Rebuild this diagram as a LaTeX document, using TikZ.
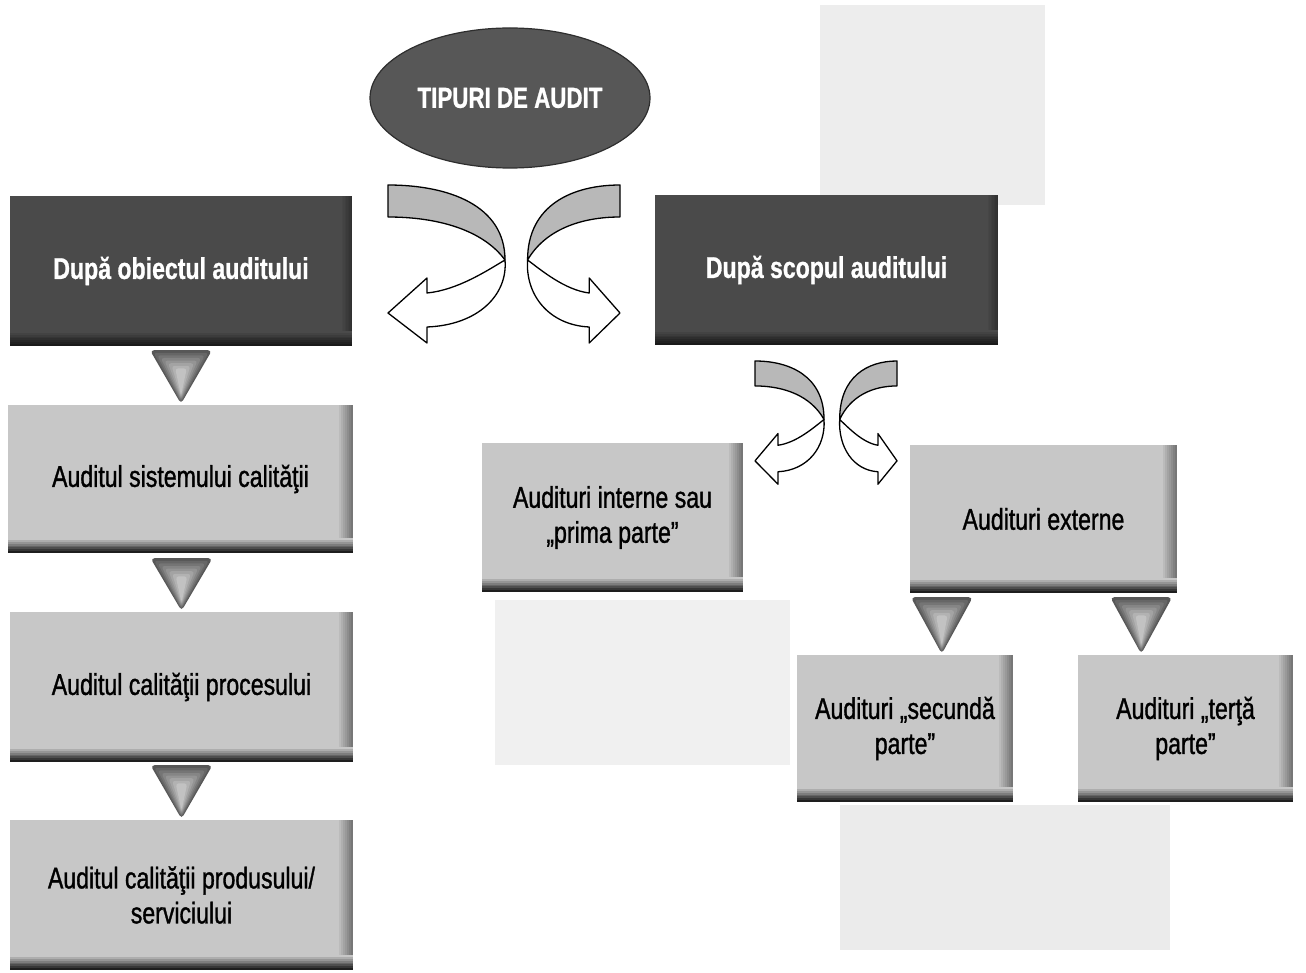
\documentclass[tikz,border=0pt]{standalone}
\usepackage{fontspec}
\setmainfont{Liberation Sans}[FakeStretch=0.77,
  UprightFeatures={FakeBold=1.1}, BoldFeatures={FakeBold=0.9}]
\usetikzlibrary{shapes.geometric,calc}

\definecolor{boxlight}{gray}{0.78}
\definecolor{boxdark}{gray}{0.29}
\definecolor{ribbongray}{gray}{0.72}

% stepped edge darkening on the right and bottom sides of a box
\newcommand\edgeshade[4]{% base colour, right width, darkest right, darkest bottom
  \foreach \ii in {0,...,7}{%
    \pgfmathtruncatemacro\rpct{100-(100-#3)*\ii/7}%
    \fill[#1!\rpct!black] ([xshift={(-#2+\ii*#2/8)*1pt}]path picture bounding box.north east)
      rectangle (path picture bounding box.south east);}%
  \foreach \ii in {0,...,7}{%
    \pgfmathtruncatemacro\bpct{100-(100-#4)*\ii/7}%
    \fill[#1!\bpct!black] ([yshift={(15-\ii*15/8)*1pt}]path picture bounding box.south west)
      rectangle (path picture bounding box.south east);}%
}

\tikzset{
  x=1pt, y=-1pt,
  lightbox/.style={rectangle, inner sep=0pt, fill=boxlight, text=black,
    align=center, font=\fontsize{30}{35}\selectfont,
    path picture={\edgeshade{boxlight}{16}{60}{15}}},
  darkbox/.style={rectangle, inner sep=0pt, fill=boxdark, text=white,
    align=center, font=\fontsize{30}{35}\selectfont\bfseries,
    path picture={\edgeshade{boxdark}{12}{65}{35}}},
  headoval/.style={ellipse, inner sep=0pt, draw=black!82, line width=1.2pt,
    fill=black!66, text=white, font=\fontsize{29}{34}\selectfont\bfseries},
  ribbonback/.style={fill=ribbongray, draw=black, line width=1.3pt, line join=round},
  ribbonfront/.style={fill=white, draw=black, line width=1.3pt, line join=round},
}

% twisted ribbon arrow: grey back face, then white front face ending in a head
\newcommand\ribbonarrow{%
  \filldraw[ribbonback] (0,0) .. controls (60,0) and (117,20) .. (117,75)
     .. controls (95,45) and (50,32) .. (0,32) -- cycle;
  \filldraw[ribbonfront] (117,75) .. controls (100,85) and (70,105) .. (39,108)
     -- (39,93) -- (0,128) -- (39,158) -- (39,142)
     .. controls (90,140) and (120,110) .. (117,75) -- cycle;}

% shaded downward pointer from a top point to the node below it
\newcommand\downtri[2]{%
  \coordinate (tiptri) at ($(#1 |- #2.north)+(0,-1)$);
  \fill[black!66, rounded corners=4pt] ($(#1)+(-31,0)$) -- ($(#1)+(31,0)$) -- (tiptri) -- cycle;
  \foreach \kk in {1,...,7}{%
    \pgfmathtruncatemacro\tpct{66-6*\kk}%
    \fill[black!\tpct, rounded corners=3pt] ($(#1)+(-31+3.6*\kk,2.6*\kk)$)
      -- ($(#1)+(31-3.6*\kk,2.6*\kk)$) -- ($(tiptri)+(0,-1.2*\kk)$) -- cycle;}}

\begin{document}
\begin{tikzpicture}
\fill[white] (0,0) rectangle (1306,973);
\useasboundingbox (0,0) rectangle (1306,973);

% faint page tone behind the chart
\fill[black!7] (820,5) rectangle (1045,205);
\fill[black!6] (495,600) rectangle (790,765);
\fill[black!8] (840,805) rectangle (1170,950);

% title
\node[headoval, minimum width=280pt, minimum height=140pt] (top) at (510,98) {TIPURI DE AUDIT};

% first-level boxes
\node[darkbox, minimum width=342pt, minimum height=150pt] (obj) at (181,271) {După obiectul auditului};
\node[darkbox, minimum width=343pt, minimum height=150pt] (scop) at (826.5,270) {După scopul auditului};

% audit object column
\node[lightbox, minimum width=345pt, minimum height=148pt] (sist) at (180.5,479) {Auditul sistemului calităţii};
\node[lightbox, minimum width=343pt, minimum height=150pt] (proc) at (181.5,687) {Auditul calităţii procesului};
\node[lightbox, minimum width=343pt, minimum height=150pt] (prod) at (181.5,895) {Auditul calităţii produsului/\\serviciului};

% audit purpose branch
\node[lightbox, minimum width=261pt, minimum height=149pt] (intern) at (612.5,517.5) {Audituri interne sau\\„prima parte”};
\node[lightbox, minimum width=267pt, minimum height=148pt] (extern) at (1043.5,519) {Audituri externe};
\node[lightbox, minimum width=216pt, minimum height=147pt] (sec) at (905,728.5) {Audituri „secundă\\parte”};
\node[lightbox, minimum width=215pt, minimum height=147pt] (ter) at (1185.5,728.5) {Audituri „terţă\\parte”};

% downward pointers
\coordinate (p1) at ($(obj.south)+(0,4)$);
\coordinate (p2) at ($(sist.south)+(1,5)$);
\coordinate (p3) at ($(proc.south)+(0,3)$);
\coordinate (p4) at ($(extern.south west)+(32,4)$);
\coordinate (p5) at ($(extern.south east)+(-36,4)$);
\downtri{p1}{sist}
\downtri{p2}{proc}
\downtri{p3}{prod}
\downtri{p4}{sec}
\downtri{p5}{ter}

% ribbon arrows from the title to the two criteria
\begin{scope}[shift={(388,185)}]
  \ribbonarrow
\end{scope}
\begin{scope}[shift={(620,185)}, xscale=-0.79]
  \ribbonarrow
\end{scope}

% ribbon arrows from the purpose box to internal / external audits
\begin{scope}[shift={(755,361)}, xscale=0.59, yscale=0.78]
  \ribbonarrow
\end{scope}
\begin{scope}[shift={(897,361)}, xscale=-0.49, yscale=0.78]
  \ribbonarrow
\end{scope}
\end{tikzpicture}
\end{document}
